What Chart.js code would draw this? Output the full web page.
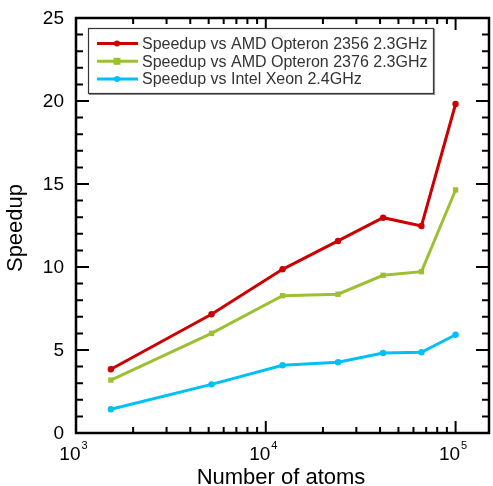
<!DOCTYPE html>
<html>
<head>
<meta charset="utf-8">
<script src="https://cdn.jsdelivr.net/npm/chart.js@4.4.0/dist/chart.umd.min.js"></script>
<style>
html,body{margin:0;padding:0;background:#fff;}
canvas{display:block;}
</style>
</head>
<body>
<canvas id="c" width="493" height="486"></canvas>
<script>
// ---- data ----
const atoms = [1527, 5176, 12250, 24020, 41500, 66100, 100000];
const speedupOpteron2356 = [3.84, 7.15, 9.86, 11.57, 12.97, 12.47, 19.82];
const speedupOpteron2376 = [3.19, 6.00, 8.27, 8.36, 9.50, 9.72, 14.64];
const speedupXeon = [1.43, 2.93, 4.08, 4.26, 4.82, 4.86, 5.92];
const seriesNames = ["Speedup vs AMD Opteron 2356 2.3GHz", "Speedup vs AMD Opteron 2376 2.3GHz", "Speedup vs Intel Xeon 2.4GHz"];
const yTicks = [0, 5, 10, 15, 20, 25];
const xDecades = [3, 4, 5];
const xTitle = "Number of atoms";
const yTitle = "Speedup";

const colors = ["#cc0000", "#9dc033", "#00c0f5"];
const FONT = "'Liberation Sans', Arial, sans-serif";

function pts(vals){ return atoms.map((a,i)=>({x:a, y:vals[i]})); }

const decor = {
  id: 'decor',
  afterDatasetsDraw(chart){
    const ctx = chart.ctx;
    const a = chart.chartArea;
    const xs = chart.scales.x, ys = chart.scales.y;
    ctx.save();
    ctx.strokeStyle = '#000';
    // ticks
    ctx.lineWidth = 2;
    // y ticks major/minor
    for (let v = 0; v <= 25; v++) {
      const py = ys.getPixelForValue(v);
      const len = (v % 5 === 0) ? 13 : 7;
      ctx.beginPath();
      ctx.moveTo(a.left, py); ctx.lineTo(a.left + len, py);
      ctx.moveTo(a.right, py); ctx.lineTo(a.right - len, py);
      ctx.stroke();
    }
    // x ticks
    for (let d = 3; d <= 5; d++) {
      for (let m = 1; m <= 9; m++) {
        const v = m * Math.pow(10, d);
        if (v < xs.min || v > xs.max) continue;
        const px = xs.getPixelForValue(v);
        const len = (m === 1) ? 12 : 6;
        ctx.beginPath();
        ctx.moveTo(px, a.bottom); ctx.lineTo(px, a.bottom - len);
        ctx.moveTo(px, a.top); ctx.lineTo(px, a.top + len);
        ctx.stroke();
      }
    }
    // frame
    ctx.lineWidth = 2.5;
    ctx.strokeRect(a.left, a.top, a.right - a.left, a.bottom - a.top);

    // y tick labels
    ctx.fillStyle = '#000';
    ctx.font = "19px " + FONT;
    ctx.textAlign = 'right';
    ctx.textBaseline = 'middle';
    yTicks.forEach(v => {
      ctx.fillText(String(v), 64, ys.getPixelForValue(v) + 0.5);
    });
    // x tick labels 10^n
    ctx.textAlign = 'left';
    ctx.textBaseline = 'alphabetic';
    xDecades.forEach(d => {
      const px = xs.getPixelForValue(Math.pow(10, d));
      ctx.font = "19px " + FONT;
      const w1 = ctx.measureText("10").width;
      ctx.font = "11px " + FONT;
      const w2 = ctx.measureText(String(d)).width;
      const x0 = px - (w1 + w2) / 2 - 3;
      ctx.font = "19px " + FONT;
      ctx.fillText("10", x0, 460);
      ctx.font = "11px " + FONT;
      ctx.fillText(String(d), x0 + w1 + 1, 449);
    });
    // axis titles
    ctx.font = "22px " + FONT;
    ctx.textAlign = 'center';
    ctx.fillText(xTitle, 281, 484);
    ctx.save();
    ctx.translate(22, 228);
    ctx.rotate(-Math.PI / 2);
    ctx.fillText(yTitle, 0, 0);
    ctx.restore();

    // legend
    ctx.lineWidth = 1.2;
    ctx.strokeStyle = '#333';
    ctx.fillStyle = '#fff';
    ctx.fillRect(88.5, 28.5, 345, 65);
    ctx.strokeRect(88.5, 28.5, 345, 65);
    ctx.strokeStyle = '#888';
    ctx.beginPath();
    ctx.moveTo(89, 94.5); ctx.lineTo(434.5, 94.5); ctx.lineTo(434.5, 29);
    ctx.stroke();
    const rows = [43.5, 61.3, 79];
    chart.data.datasets.forEach((ds, i) => {
      const y = rows[i];
      ctx.strokeStyle = ds.borderColor;
      ctx.lineWidth = 3;
      ctx.beginPath();
      ctx.moveTo(97, y); ctx.lineTo(138, y);
      ctx.stroke();
      ctx.fillStyle = ds.borderColor;
      if (ds.pointStyle === 'rect') {
        ctx.fillRect(117 - 3.5, y - 3.5, 7, 7);
      } else {
        ctx.beginPath();
        ctx.arc(117, y, 3, 0, Math.PI * 2);
        ctx.fill();
      }
      ctx.fillStyle = '#333';
      ctx.font = "16px " + FONT;
      ctx.textAlign = 'left';
      ctx.textBaseline = 'middle';
      ctx.fillText(ds.label, 142, y + 1);
    });
    ctx.restore();
  }
};

new Chart(document.getElementById('c'), {
  type: 'line',
  data: {
    datasets: [
      {label: seriesNames[0], data: pts(speedupOpteron2356), borderColor: colors[0], backgroundColor: colors[0], pointStyle: 'circle', pointRadius: 3.2},
      {label: seriesNames[1], data: pts(speedupOpteron2376), borderColor: colors[1], backgroundColor: colors[1], pointStyle: 'rect', pointRadius: 3.8},
      {label: seriesNames[2], data: pts(speedupXeon), borderColor: colors[2], backgroundColor: colors[2], pointStyle: 'circle', pointRadius: 3.2}
    ].map(d => Object.assign(d, {borderWidth: 3, tension: 0, pointBorderWidth: 0, fill: false, pointBackgroundColor: d.borderColor}))
  },
  options: {
    responsive: false,
    animation: false,
    layout: {padding: {left: 76, right: 2, top: 18, bottom: 53}},
    plugins: {legend: {display: false}, tooltip: {enabled: false}},
    scales: {
      x: {type: 'logarithmic', min: 1000, max: 150000, display: false},
      y: {type: 'linear', min: 0, max: 25, display: false}
    }
  },
  plugins: [decor]
});
</script>
</body>
</html>
